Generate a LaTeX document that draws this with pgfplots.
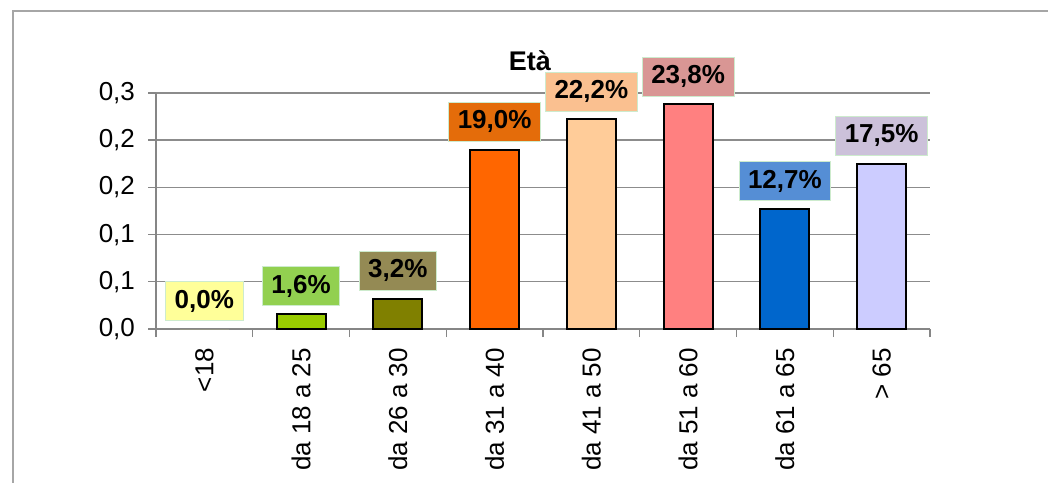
\documentclass[border=0pt]{standalone}
\usepackage{fontspec}
\setmainfont{Liberation Sans}
\usepackage{pgfplots}
\pgfplotsset{compat=1.18}
\definecolor{bordergray}{HTML}{A6A6A6}
\definecolor{axisgray}{HTML}{868686}
\definecolor{gridgray}{HTML}{8C8C8C}
\definecolor{lblborder}{HTML}{CDEBCD}
\definecolor{bA}{HTML}{FFFF99}\definecolor{lA}{HTML}{FFFF99}
\definecolor{bB}{HTML}{99CC00}\definecolor{lB}{HTML}{92D050}
\definecolor{bC}{HTML}{808000}\definecolor{lC}{HTML}{948A54}
\definecolor{bD}{HTML}{FF6600}\definecolor{lD}{HTML}{E46C0A}
\definecolor{bE}{HTML}{FFCC99}\definecolor{lE}{HTML}{FAC090}
\definecolor{bF}{HTML}{FF8080}\definecolor{lF}{HTML}{D99694}
\definecolor{bG}{HTML}{0066CC}\definecolor{lG}{HTML}{558ED5}
\definecolor{bH}{HTML}{CCCCFF}\definecolor{lH}{HTML}{CCC1DA}
\pgfplotsset{
  lbl/.style={every node near coord/.append style={
    fill=#1, draw=lblborder, line width=0.4pt, text=black,
    font=\bfseries\fontsize{13pt}{15pt}\selectfont,
    inner xsep=4.5pt, minimum height=19.5pt, anchor=south, yshift=4pt}},
  barst/.style={fill=#1, draw=black, line width=1pt, bar shift=0pt}
}
\begin{document}
\begin{tikzpicture}[x=1pt,y=1pt]
\useasboundingbox (0,0) rectangle (524,241);
\draw[color=bordergray, line width=0.7pt] (6.5,-10) -- (6.5,235.5) -- (540,235.5);
\begin{axis}[
  at={(78pt,76.5pt)}, anchor=south west,
  width=387pt, height=118pt, scale only axis,
  xmin=-0.5, xmax=7.5, ymin=0, ymax=0.25,
  clip=false,
  axis lines*=left,
  axis line style={draw=axisgray, line width=0.7pt},
  ybar, bar width=24.5pt,
  xtick={0,...,7},
  xticklabels={{<18},{da 18 a 25},{da 26 a 30},{da 31 a 40},{da 41 a 50},{da 51 a 60},{da 61 a 65},{> 65}},
  major x tick style={draw=none},
  minor xtick={-0.5,0.5,...,7.5},
  minor x tick style={draw=axisgray, line width=0.7pt},
  ytick={0,0.05,0.1,0.15,0.2,0.25},
  yticklabels={{0,0},{0,1},{0,1},{0,2},{0,2},{0,3}},
  ytick style={draw=axisgray, line width=0.7pt},
  ymajorgrids, grid style={draw=gridgray, line width=0.7pt},
  tick align=outside, major tick length=4pt, minor tick length=4pt,
  tick label style={font=\fontsize{13pt}{15pt}\selectfont},
  y tick label style={xshift=-3pt},
  x tick label style={yshift=-2pt, rotate=90, anchor=east},
  title={Età},
  title style={at={(0.483,1)}, anchor=base, yshift=5pt, font=\bfseries\fontsize{13.5pt}{15pt}\selectfont},
]
\addplot[fill=bA, draw=none, bar shift=0pt, nodes near coords={0,0\%}, lbl=lA] coordinates {(0,0)};
\addplot[barst=bB, nodes near coords={1,6\%}, lbl=lB] coordinates {(1,0.016)};
\addplot[barst=bC, nodes near coords={3,2\%}, lbl=lC] coordinates {(2,0.032)};
\addplot[barst=bD, nodes near coords={19,0\%}, lbl=lD] coordinates {(3,0.190)};
\addplot[barst=bE, nodes near coords={22,2\%}, lbl=lE] coordinates {(4,0.222)};
\addplot[barst=bF, nodes near coords={23,8\%}, lbl=lF] coordinates {(5,0.238)};
\addplot[barst=bG, nodes near coords={12,7\%}, lbl=lG] coordinates {(6,0.127)};
\addplot[barst=bH, nodes near coords={17,5\%}, lbl=lH] coordinates {(7,0.175)};
\end{axis}
\end{tikzpicture}
\end{document}
